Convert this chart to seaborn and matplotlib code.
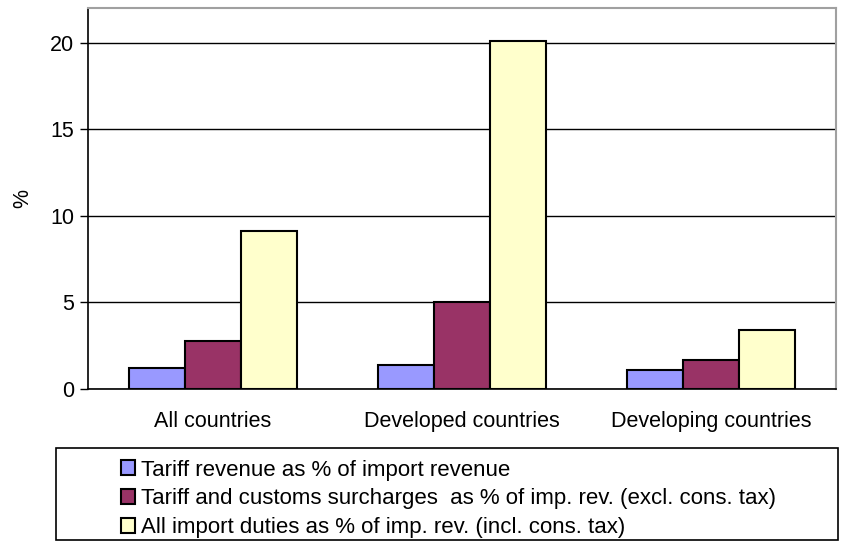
import numpy as np
import pandas as pd
import seaborn as sns
import matplotlib.pyplot as plt
from matplotlib.patches import Rectangle

categories = ["All countries", "Developed countries", "Developing countries"]
series = [
    "Tariff revenue as % of import revenue",
    "Tariff and customs surcharges  as % of imp. rev. (excl. cons. tax)",
    "All import duties as % of imp. rev. (incl. cons. tax)",
]
tariff = [1.2, 1.4, 1.1]
surcharges = [2.8, 5.0, 1.65]
all_duties = [9.15, 20.1, 3.4]
colors = ["#9999FF", "#993366", "#FFFFCC"]
yticks = [0, 5, 10, 15, 20]


def main():
    sns.set_style(style="white")
    plt.rcParams["font.family"] = ["Liberation Sans", "DejaVu Sans"]
    for key in ["text.color", "axes.labelcolor", "xtick.color", "ytick.color"]:
        plt.rcParams[key] = "black"

    data = pd.DataFrame({
        "category": categories * 3,
        "series": [series[0]] * 3 + [series[1]] * 3 + [series[2]] * 3,
        "value": tariff + surcharges + all_duties,
    })

    fig = plt.figure(figsize=(8.42, 5.45), dpi=100)
    ax = fig.add_axes([88 / 842, 1 - 389 / 545, 748 / 842, 381 / 545])

    sns.barplot(data=data, x="category", y="value", hue="series",
                hue_order=series, order=categories, palette=colors,
                width=0.675, edgecolor="black", linewidth=1.5,
                saturation=1, ax=ax, legend=True)

    ax.set_ylim(0, 22)
    ax.set_xlim(-0.5, 2.5)
    ax.set_yticks(yticks)
    ax.yaxis.grid(True, color="black", linewidth=1.0)
    ax.set_axisbelow(True)

    # category boundary ticks like the old Excel look
    ax.set_xticks([-0.5, 0.5, 1.5, 2.5])
    ax.set_xticklabels([])
    ax.set_xticks([0, 1, 2], minor=True)
    ax.set_xticklabels(categories, minor=True, fontsize=15.5)
    ax.tick_params(axis="x", which="major", length=6, width=1, color="black", direction="out")
    ax.tick_params(axis="x", which="minor", length=0, pad=16)
    ax.tick_params(axis="y", length=6, width=1, color="black", direction="out",
                   labelsize=15.5, pad=4, left=True)

    ax.set_xlabel("")
    ax.set_ylabel("%", fontsize=15.5)
    ax.yaxis.set_label_coords(-0.073, 0.5)

    for side in ["left", "bottom"]:
        ax.spines[side].set_color("black")
        ax.spines[side].set_linewidth(1.2)
    for side in ["top", "right"]:
        ax.spines[side].set_color("#a0a0a0")
        ax.spines[side].set_linewidth(1.5)

    handles, labels = ax.get_legend_handles_labels()
    ax.get_legend().remove()
    fig.patches.append(Rectangle((56 / 842, 1 - 540 / 545), 782 / 842, 92 / 545,
                                 transform=fig.transFigure, facecolor="white",
                                 edgecolor="black", linewidth=1.2))
    fig.legend(handles, labels, loc="upper left",
               bbox_to_anchor=(105 / 842, 1 - 444 / 545), frameon=False,
               fontsize=16, handlelength=0.65, handleheight=0.65,
               handletextpad=0.25, labelspacing=0.35, borderpad=0.2)

    plt.savefig("out.png", dpi=100)


if __name__ == '__main__':
    main()
